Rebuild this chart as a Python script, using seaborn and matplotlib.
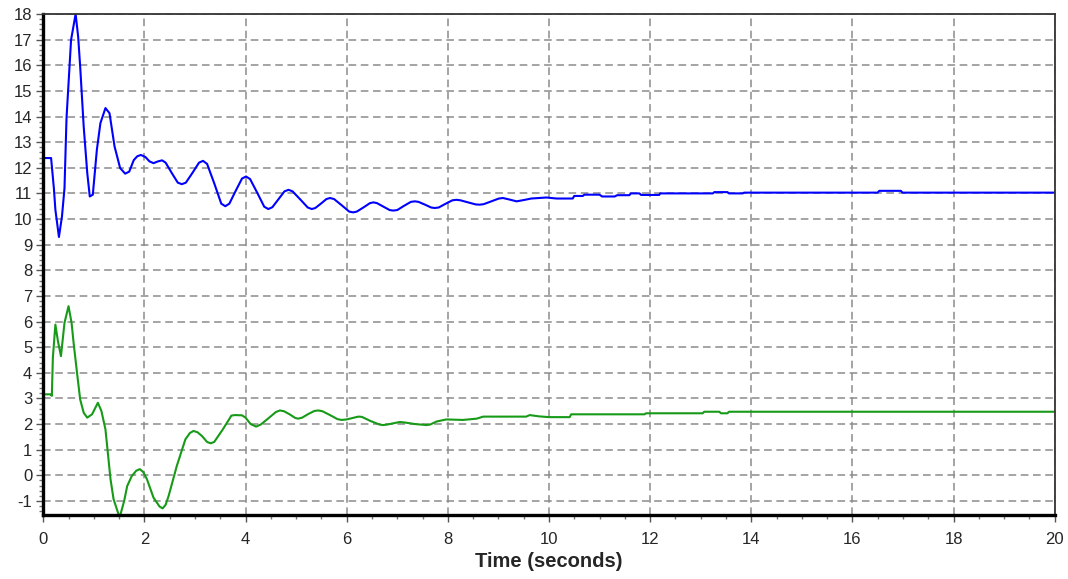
import pandas as pd
import numpy as np
import seaborn as sns
import matplotlib.pyplot as plt
from matplotlib.ticker import MultipleLocator

# --- values ---
blue_t = [0, 0.04, 0.155, 0.21, 0.24, 0.31, 0.37, 0.42, 0.46, 0.50, 0.55, 0.64, 0.69,
          0.73, 0.80, 0.87, 0.92, 0.98, 1.06, 1.13, 1.23, 1.31, 1.41, 1.52, 1.62, 1.70,
          1.79, 1.86, 1.93, 2.02, 2.10, 2.18, 2.27, 2.35, 2.42, 2.54, 2.66, 2.74, 2.82,
          2.95, 3.08, 3.16, 3.24, 3.38, 3.52, 3.60, 3.68, 3.80, 3.93, 4.01, 4.09, 4.23,
          4.37, 4.45, 4.53, 4.65, 4.77, 4.85, 4.93, 5.08, 5.23, 5.31, 5.38, 5.49, 5.60,
          5.67, 5.75, 5.90, 6.05, 6.13, 6.20, 6.33, 6.46, 6.53, 6.60, 6.72, 6.85, 6.92,
          7.00, 7.13, 7.27, 7.35, 7.42, 7.55, 7.67, 7.74, 7.82, 7.95, 8.09, 8.17, 8.25,
          8.40, 8.55, 8.63, 8.71, 8.86, 9.01, 9.09, 9.22, 9.36, 9.50, 9.65, 9.95, 10.15,
          10.47, 10.50, 10.67, 10.70, 11.00, 11.05, 11.30, 11.35, 11.59, 11.62, 11.79,
          11.82, 12.18, 12.20, 13.24, 13.27, 13.53, 13.56, 13.83, 13.86, 16.50, 16.53,
          16.96, 16.99, 20]
blue_v = [12.38, 12.38, 12.38, 11.2, 10.36, 9.3, 10.1, 11.2, 13.94, 15.3, 16.99, 18.0, 17.12,
          15.95, 13.6, 11.8, 10.88, 10.95, 12.7, 13.74, 14.33, 14.13, 12.83, 11.99, 11.77, 11.85,
          12.3, 12.45, 12.5, 12.42, 12.25, 12.18, 12.25, 12.29, 12.2, 11.8, 11.42, 11.36, 11.42,
          11.8, 12.2, 12.27, 12.15, 11.4, 10.6, 10.5, 10.6, 11.08, 11.58, 11.66, 11.56, 11.03,
          10.48, 10.39, 10.46, 10.77, 11.08, 11.14, 11.08, 10.77, 10.45, 10.39, 10.43, 10.6, 10.78,
          10.82, 10.78, 10.54, 10.29, 10.26, 10.29, 10.45, 10.62, 10.65, 10.62, 10.49, 10.35, 10.33,
          10.35, 10.51, 10.67, 10.69, 10.67, 10.56, 10.45, 10.43, 10.45, 10.59, 10.73, 10.75, 10.73,
          10.65, 10.57, 10.56, 10.58, 10.69, 10.8, 10.82, 10.76, 10.69, 10.74, 10.8, 10.84, 10.8,
          10.8, 10.9, 10.9, 10.95, 10.95, 10.88, 10.88, 10.93, 10.93, 11.0, 11.0,
          10.94, 10.94, 11.0, 11.0, 11.05, 11.05, 11.0, 11.0, 11.03, 11.03, 11.1,
          11.1, 11.03, 11.03]

green_t = [0, 0.14, 0.17, 0.19, 0.24, 0.29, 0.35, 0.42, 0.50, 0.56, 0.60, 0.67, 0.73,
           0.80, 0.87, 0.965, 1.08, 1.15, 1.23, 1.33, 1.39, 1.51, 1.60, 1.66, 1.75, 1.84,
           1.91, 1.98, 2.05, 2.18, 2.30, 2.36, 2.42, 2.48, 2.64, 2.81, 2.90, 2.97, 3.05,
           3.14, 3.24, 3.31, 3.38, 3.55, 3.68, 3.72, 3.79, 3.93, 4.00, 4.10, 4.21, 4.30,
           4.45, 4.60, 4.68, 4.76, 4.88, 4.98, 5.04, 5.12, 5.24, 5.36, 5.44, 5.52, 5.67,
           5.82, 5.90, 6.00, 6.23, 6.30, 6.47, 6.65, 6.72, 6.80, 7.05, 7.15, 7.35, 7.58,
           7.65, 7.78, 7.97, 8.30, 8.57, 8.70, 9.55, 9.62, 9.80, 10.0, 10.41, 10.44, 11.89,
           11.92, 13.04, 13.07, 13.37, 13.40, 13.53, 13.56, 20]
green_v = [3.16, 3.16, 3.1, 4.59, 5.88, 5.24, 4.65, 5.95, 6.6, 5.95, 5.17, 3.96, 2.96,
           2.44, 2.25, 2.38, 2.83, 2.51, 1.79, -0.15, -0.93, -1.65, -1.0, -0.42, -0.03, 0.18,
           0.24, 0.12, -0.15, -0.87, -1.22, -1.29, -1.15, -0.8, 0.36, 1.4, 1.65, 1.73, 1.68,
           1.53, 1.3, 1.25, 1.3, 1.79, 2.2, 2.33, 2.35, 2.34, 2.25, 2.0, 1.9, 1.98,
           2.22, 2.47, 2.53, 2.5, 2.37, 2.24, 2.21, 2.25, 2.39, 2.51, 2.53, 2.5, 2.35,
           2.19, 2.16, 2.18, 2.29, 2.28, 2.12, 1.98, 1.96, 1.98, 2.08, 2.06, 2.0, 1.96,
           1.98, 2.1, 2.18, 2.16, 2.21, 2.29, 2.29, 2.35, 2.3, 2.27, 2.27, 2.38, 2.38,
           2.42, 2.42, 2.48, 2.48, 2.42, 2.42, 2.48, 2.48]

df = pd.concat([
    pd.DataFrame({"t": blue_t, "v": blue_v, "s": "blue"}),
    pd.DataFrame({"t": green_t, "v": green_v, "s": "green"}),
], ignore_index=True)

sns.set_style("white")
plt.rcParams["font.family"] = ["Liberation Sans", "DejaVu Sans"]
plt.rcParams["axes.unicode_minus"] = False

fig = plt.figure(figsize=(10.68, 5.79), dpi=100)
ax = fig.add_axes([0.0405, 0.1105, 0.947, 0.8653])

sns.lineplot(data=df, x="t", y="v", hue="s", palette={"blue": "#0000ff", "green": "#179a17"},
             estimator=None, sort=False, legend=False, linewidth=1.5, ax=ax)

ax.set_xlim(0, 20)
ax.set_ylim(-1.55, 18)
ax.xaxis.set_major_locator(MultipleLocator(2))
ax.xaxis.set_minor_locator(MultipleLocator(0.5))
ax.yaxis.set_major_locator(MultipleLocator(1))
ax.yaxis.set_minor_locator(MultipleLocator(0.2))

ax.grid(True, which="major", color="#8c8c8c", linestyle=(0, (5, 3)), linewidth=1.1)
ax.set_axisbelow(True)

for side in ["left", "bottom"]:
    ax.spines[side].set_color("black")
    ax.spines[side].set_linewidth(2.4)
for side in ["top", "right"]:
    ax.spines[side].set_color("#333333")
    ax.spines[side].set_linewidth(1.3)

ax.tick_params(axis="both", which="major", direction="out", length=5, width=1,
               color="#555555", labelsize=12, bottom=True, left=True)
ax.tick_params(axis="both", which="minor", direction="out", length=3, width=1,
               color="#777777", bottom=True, left=True)
ax.tick_params(axis="x", which="major", pad=7)
ax.tick_params(axis="y", which="major", pad=3)

ax.set_xlabel("Time (seconds)", fontsize=14.5, fontweight="bold", labelpad=4)
ax.set_ylabel("")

fig.savefig("out.png", dpi=100)
